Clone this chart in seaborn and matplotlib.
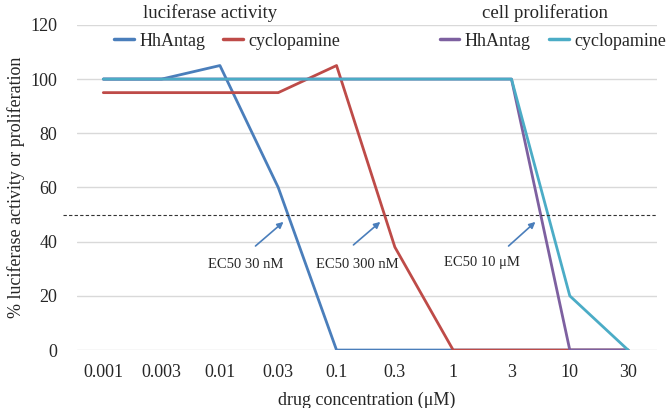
import pandas as pd
import seaborn as sns
import matplotlib.pyplot as plt
from matplotlib.lines import Line2D

# data
conc_labels = ["0.001", "0.003", "0.01", "0.03", "0.1", "0.3", "1", "3", "10", "30"]
luc_hhantag = [100, 100, 105, 60, 0, 0, 0, 0, 0, 0]
luc_cyclopamine = [95, 95, 95, 95, 105, 38, 0, 0, 0, 0]
prolif_hhantag = [100, 100, 100, 100, 100, 100, 100, 100, 0, 0]
prolif_cyclopamine = [100, 100, 100, 100, 100, 100, 100, 100, 20, 0]

series_names = ["luc HhAntag", "luc cyclopamine", "prolif HhAntag", "prolif cyclopamine"]
series_colors = ["#4a7ebb", "#be4b48", "#7d60a0", "#4bacc6"]

# EC50 callouts: label, text position, arrow tail, arrow head (category index, %)
ec50_labels = ["EC50 30 nM", "EC50 300 nM", "EC50 10 \u03bcM"]
ec50_text_xy = [(2.44, 31.4), (4.36, 31.4), (6.50, 32.3)]
ec50_tail_xy = [(2.61, 38.4), (4.29, 38.8), (6.95, 38.4)]
ec50_head_xy = [(3.09, 47.3), (4.75, 47.3), (7.41, 47.3)]

# long table for seaborn
rows = []
for name, vals in zip(series_names,
                      [luc_hhantag, luc_cyclopamine, prolif_hhantag, prolif_cyclopamine]):
    for i, v in enumerate(vals):
        rows.append({"idx": i, "value": v, "series": name})
df = pd.DataFrame(rows)

sns.set_style("white")
plt.rcParams['font.family'] = ['Liberation Serif', 'DejaVu Serif']

fig = plt.figure(figsize=(6.7, 4.08), dpi=100)
ax = fig.add_axes([0.115, 0.142, 0.866, 0.797])

sns.lineplot(data=df, x="idx", y="value", hue="series", hue_order=series_names,
             palette=dict(zip(series_names, series_colors)), linewidth=2.0,
             legend=False, ax=ax)

ax.set_xlim(-0.45, 9.5)
ax.set_ylim(0, 120)
ax.set_yticks(range(0, 121, 20))
ax.set_xticks(range(len(conc_labels)))
ax.set_xticklabels(conc_labels)
ax.tick_params(axis='both', length=0, labelsize=13)
ax.tick_params(axis='x', pad=10)
ax.tick_params(axis='y', pad=14)
ax.grid(axis='y', color='#d9d9d9', linewidth=1)
ax.set_axisbelow(True)
sns.despine(ax=ax, left=True, bottom=True)

ax.set_xlabel("drug concentration (\u03bcM)", fontsize=13, labelpad=8)
ax.set_ylabel("% luciferase activity or proliferation", fontsize=13, labelpad=4)

# 50% reference line
ax.axhline(50, xmin=-0.024, xmax=0.997, color='#333333', linewidth=0.8,
           linestyle=(0, (3, 2)), clip_on=False)

for lab, txy, tail, head in zip(ec50_labels, ec50_text_xy, ec50_tail_xy, ec50_head_xy):
    ax.text(txy[0], txy[1], lab, fontsize=10.5, ha='center', va='center')
    ax.annotate("", xy=head, xytext=tail,
                arrowprops=dict(arrowstyle='-|>', color='#4a7ebb', lw=1.2,
                                mutation_scale=9, shrinkA=0, shrinkB=0))

# group titles and legends
fig.text(210 / 670, 1 - 13 / 408, "luciferase activity", fontsize=13.5, ha='center', va='center')
fig.text(545 / 670, 1 - 13 / 408, "cell proliferation", fontsize=13.5, ha='center', va='center')

def handles(cols):
    return [Line2D([], [], color=c, linewidth=2.5) for c in cols]

leg_kw = dict(loc='center left', ncol=2, frameon=False, fontsize=13, borderpad=0,
              borderaxespad=0, handlelength=1.1, handletextpad=0.3, columnspacing=1.0)
fig.legend(handles(series_colors[:2]), ["HhAntag", "cyclopamine"],
           bbox_to_anchor=(0.170, 1 - 41 / 408), **leg_kw)
fig.legend(handles(series_colors[2:]), ["HhAntag", "cyclopamine"],
           bbox_to_anchor=(0.656, 1 - 41 / 408), **leg_kw)

fig.savefig("out.png", dpi=100)
